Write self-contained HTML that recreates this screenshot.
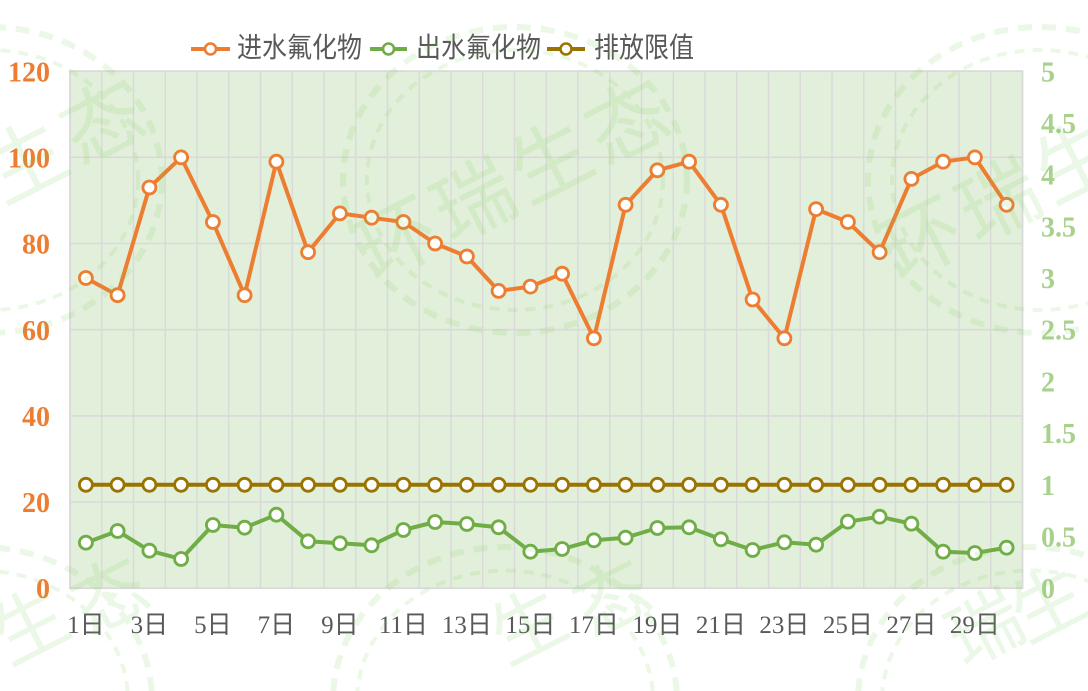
<!DOCTYPE html>
<html><head><meta charset="utf-8"><style>
html,body{margin:0;padding:0;background:#fff;width:1088px;height:691px;overflow:hidden;}
svg{display:block;}
</style></head><body>
<svg width="1088" height="691" viewBox="0 0 1088 691" xmlns="http://www.w3.org/2000/svg" overflow="hidden">
<defs>
<marker id="mo" markerWidth="20" markerHeight="20" refX="10" refY="10" markerUnits="userSpaceOnUse"><circle cx="10" cy="10" r="6.5" fill="#fff" stroke="#ED7D31" stroke-width="2.8"/></marker>
<marker id="mg" markerWidth="20" markerHeight="20" refX="10" refY="10" markerUnits="userSpaceOnUse"><circle cx="10" cy="10" r="6.5" fill="#fff" stroke="#70AD47" stroke-width="2.8"/></marker>
<marker id="mb" markerWidth="20" markerHeight="20" refX="10" refY="10" markerUnits="userSpaceOnUse"><circle cx="10" cy="10" r="6.5" fill="#fff" stroke="#9A7400" stroke-width="2.8"/></marker>
</defs>

<!-- plot area -->
<rect x="70" y="71.2" width="952.5" height="517" fill="#E2EFDA"/>
<path d="M70 502H1022.5M70 415.9H1022.5M70 329.7H1022.5M70 243.5H1022.5M70 157.3H1022.5M70 71.2H1022.5" stroke="#D9D9D9" stroke-width="1.6" fill="none"/>
<path d="M101.75 71.2V588.2M133.5 71.2V588.2M165.25 71.2V588.2M197 71.2V588.2M228.75 71.2V588.2M260.5 71.2V588.2M292.25 71.2V588.2M324 71.2V588.2M355.75 71.2V588.2M387.5 71.2V588.2M419.25 71.2V588.2M451 71.2V588.2M482.75 71.2V588.2M514.5 71.2V588.2M546.25 71.2V588.2M578 71.2V588.2M609.75 71.2V588.2M641.5 71.2V588.2M673.25 71.2V588.2M705 71.2V588.2M736.75 71.2V588.2M768.5 71.2V588.2M800.25 71.2V588.2M832 71.2V588.2M863.75 71.2V588.2M895.5 71.2V588.2M927.25 71.2V588.2M959 71.2V588.2M990.75 71.2V588.2" stroke="#D9D9D9" stroke-width="1.4" fill="none"/>
<rect x="70" y="71.2" width="952.5" height="517" fill="none" stroke="#D9D9D9" stroke-width="1.8"/>

<!-- left axis -->
<g font-family="'Liberation Serif', serif" font-weight="bold" font-size="28" fill="#ED7D31" text-anchor="end">
<text x="50" y="598">0</text>
<text x="50" y="512">20</text>
<text x="50" y="426">40</text>
<text x="50" y="340">60</text>
<text x="50" y="253.5">80</text>
<text x="50" y="167.5">100</text>
<text x="50" y="81.5">120</text>
</g>
<!-- right axis -->
<g font-family="'Liberation Serif', serif" font-weight="bold" font-size="28" fill="#A9D18E" text-anchor="start">
<text x="1041" y="598">0</text>
<text x="1041" y="546.5">0.5</text>
<text x="1041" y="494.8">1</text>
<text x="1041" y="443">1.5</text>
<text x="1041" y="391.4">2</text>
<text x="1041" y="339.7">2.5</text>
<text x="1041" y="288">3</text>
<text x="1041" y="236.3">3.5</text>
<text x="1041" y="184.6">4</text>
<text x="1041" y="133">4.5</text>
<text x="1041" y="81.5">5</text>
</g>
<!-- x axis labels -->
<g font-family="'Liberation Serif', 'Noto Sans CJK SC', serif" font-size="25" fill="#595959" text-anchor="middle">
<text x="85.9" y="633">1日</text>
<text x="149.4" y="633">3日</text>
<text x="212.9" y="633">5日</text>
<text x="276.4" y="633">7日</text>
<text x="339.9" y="633">9日</text>
<text x="403.4" y="633">11日</text>
<text x="466.9" y="633">13日</text>
<text x="530.4" y="633">15日</text>
<text x="593.9" y="633">17日</text>
<text x="657.4" y="633">19日</text>
<text x="720.9" y="633">21日</text>
<text x="784.4" y="633">23日</text>
<text x="847.9" y="633">25日</text>
<text x="911.4" y="633">27日</text>
<text x="974.9" y="633">29日</text>
</g>

<!-- series -->
<polyline fill="none" stroke="#9A7400" stroke-width="4" stroke-linejoin="round" marker-start="url(#mb)" marker-mid="url(#mb)" marker-end="url(#mb)"
points="85.9,484.8 117.6,484.8 149.4,484.8 181.1,484.8 212.9,484.8 244.6,484.8 276.4,484.8 308.1,484.8 339.9,484.8 371.6,484.8 403.4,484.8 435.1,484.8 466.9,484.8 498.6,484.8 530.4,484.8 562.1,484.8 593.9,484.8 625.6,484.8 657.4,484.8 689.1,484.8 720.9,484.8 752.6,484.8 784.4,484.8 816.1,484.8 847.9,484.8 879.6,484.8 911.4,484.8 943.1,484.8 974.9,484.8 1006.6,484.8"/>
<polyline fill="none" stroke="#70AD47" stroke-width="4" stroke-linejoin="round" marker-start="url(#mg)" marker-mid="url(#mg)" marker-end="url(#mg)"
points="85.9,542.7 117.6,531 149.4,550.7 181.1,559 212.9,525 244.6,527.7 276.4,514.7 308.1,541.3 339.9,543.3 371.6,545.3 403.4,530 435.1,522 466.9,524 498.6,527.3 530.4,551.7 562.1,549 593.9,540.3 625.6,537.7 657.4,528 689.1,527.3 720.9,539.3 752.6,550 784.4,542.3 816.1,544.7 847.9,521.7 879.6,516.7 911.4,523.7 943.1,551.7 974.9,553 1006.6,547.7"/>
<polyline fill="none" stroke="#ED7D31" stroke-width="4" stroke-linejoin="round" marker-start="url(#mo)" marker-mid="url(#mo)" marker-end="url(#mo)"
points="85.9,278.0 117.6,295.2 149.4,187.5 181.1,157.4 212.9,222.0 244.6,295.2 276.4,161.7 308.1,252.2 339.9,213.4 371.6,217.7 403.4,222.0 435.1,243.5 466.9,256.5 498.6,290.9 530.4,286.6 562.1,273.7 593.9,338.3 625.6,204.8 657.4,170.3 689.1,161.7 720.9,204.8 752.6,299.5 784.4,338.3 816.1,209.1 847.9,222.0 879.6,252.2 911.4,178.9 943.1,161.7 974.9,157.4 1006.6,204.8"/>

<!-- legend -->
<g stroke-width="4">
<line x1="191" y1="49" x2="230" y2="49" stroke="#ED7D31"/>
<circle cx="210.5" cy="49" r="5.5" fill="#fff" stroke="#ED7D31" stroke-width="2.6"/>
<line x1="370" y1="49" x2="407" y2="49" stroke="#70AD47"/>
<circle cx="388.5" cy="49" r="5.5" fill="#fff" stroke="#70AD47" stroke-width="2.6"/>
<line x1="547" y1="49" x2="585" y2="49" stroke="#9A7400"/>
<circle cx="566" cy="49" r="5.5" fill="#fff" stroke="#9A7400" stroke-width="2.6"/>
</g>
<g font-family="'Liberation Sans', 'Noto Sans CJK SC', sans-serif" font-size="25" fill="#595959" transform="translate(0,57) scale(1,1.12) translate(0,-57)">
<text x="237" y="57">进水氟化物</text>
<text x="416" y="57">出水氟化物</text>
<text x="594" y="57">排放限值</text>
</g>

<!-- watermark -->
<g opacity="0.14" fill="none" stroke="#78C850" font-family="'Noto Sans CJK SC', sans-serif">
<g transform="translate(-10,180)">
<ellipse rx="172" ry="153" stroke-width="6" stroke-dasharray="14 10"/>
<ellipse rx="148" ry="130" stroke-width="4" stroke-dasharray="10 8"/>
<text transform="rotate(-27)" text-anchor="middle" y="28" font-size="80" letter-spacing="6" fill="#78C850" stroke="none">环瑞生态</text>
</g>
<g transform="translate(515,180)">
<ellipse rx="172" ry="153" stroke-width="6" stroke-dasharray="14 10"/>
<ellipse rx="148" ry="130" stroke-width="4" stroke-dasharray="10 8"/>
<text transform="rotate(-27)" text-anchor="middle" y="28" font-size="80" letter-spacing="6" fill="#78C850" stroke="none">环瑞生态</text>
</g>
<g transform="translate(1040,180)">
<ellipse rx="172" ry="153" stroke-width="6" stroke-dasharray="14 10"/>
<ellipse rx="148" ry="130" stroke-width="4" stroke-dasharray="10 8"/>
<text transform="rotate(-27)" text-anchor="middle" y="28" font-size="80" letter-spacing="6" fill="#78C850" stroke="none">环瑞生态</text>
</g>
<!-- bottom row: arcs clipped to frame -->
<path d="M151.7 691A172 153 0 0 0 -191.7 691" stroke-width="6" stroke-dasharray="14 10"/>
<path d="M127.6 691A148 130 0 0 0 -167.6 691" stroke-width="4" stroke-dasharray="10 8"/>
<path d="M676.7 691A172 153 0 0 0 333.3 691" stroke-width="6" stroke-dasharray="14 10"/>
<path d="M652.6 691A148 130 0 0 0 357.4 691" stroke-width="4" stroke-dasharray="10 8"/>
<path d="M1201.7 691A172 153 0 0 0 858.3 691" stroke-width="6" stroke-dasharray="14 10"/>
<path d="M1177.6 691A148 130 0 0 0 882.4 691" stroke-width="4" stroke-dasharray="10 8"/>
<g fill="#78C850" stroke="none" font-size="74" text-anchor="middle">
<text transform="translate(30,626) rotate(-27)" y="26">生</text>
<text transform="translate(110,596) rotate(-27)" y="26">态</text>
<text transform="translate(528,626) rotate(-27)" y="26">生</text>
<text transform="translate(612,598) rotate(-27)" y="26">态</text>
<text transform="translate(985,628) rotate(-27)" y="26">瑞</text>
<text transform="translate(1048,604) rotate(-27)" y="26">生</text>
</g>
</g>
</svg>
</body></html>
